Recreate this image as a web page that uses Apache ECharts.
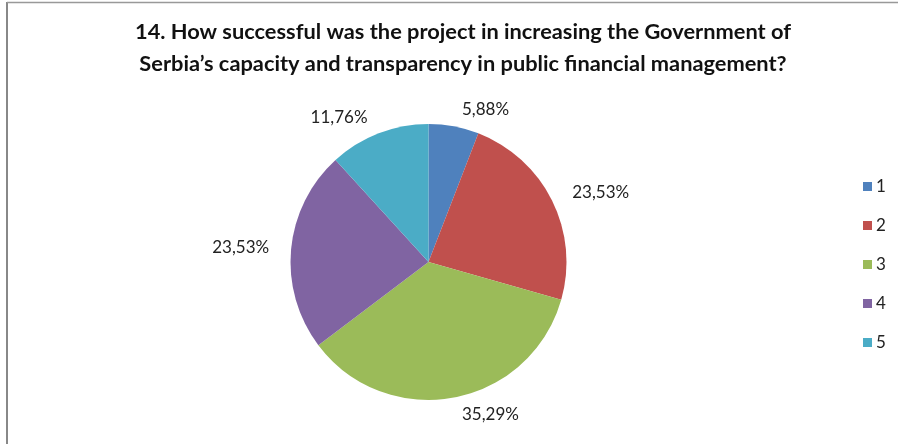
<!DOCTYPE html>
<html><head><meta charset="utf-8">
<script src="https://cdn.jsdelivr.net/npm/echarts@6/dist/echarts.min.js"></script>
<style>html,body{margin:0;padding:0;background:#fff}#c{width:898px;height:444px}</style>
</head><body><div id="c"></div>
<script>
const categories = ['1','2','3','4','5'];
const counts = [1, 4, 6, 4, 2];
const colors = ['#4F81BD','#C0504D','#9BBB59','#8064A2','#4BACC6'];
const titleText = '14. How successful was the project in increasing the Government of\nSerbia\u2019s capacity and transparency in public financial management?';
const total = counts.reduce((a, b) => a + b, 0);

const chart = echarts.init(document.getElementById('c'));
chart.setOption({
  animation: false,
  color: colors,
  title: {
    text: titleText, left: 458, textAlign: 'center', top: 11,
    textStyle: {fontFamily: 'Lato', fontWeight: 'bold', fontSize: 21.8, lineHeight: 32, color: '#111'}
  },
  legend: {
    orient: 'vertical', left: 858, top: 173, itemWidth: 9, itemHeight: 9, itemGap: 22,
    icon: 'rect',
    textStyle: {fontFamily: 'Lato', fontSize: 17, color: '#222', padding: [0,0,0,-1]},
    data: categories
  },
  graphic: [
    {type: 'line', shape: {x1: 7, y1: 2, x2: 7, y2: 444}, style: {stroke: '#888', lineWidth: 2}},
    {type: 'line', shape: {x1: 7, y1: 2.5, x2: 898, y2: 2.5}, style: {stroke: '#999', lineWidth: 1.5}}
  ],
  series: [{
    type: 'pie', center: [428.5, 262], radius: 138, startAngle: 90, clockwise: true,
    data: categories.map((c, i) => ({name: c, value: counts[i]})),
    label: {
      show: true, position: 'outside',
      fontFamily: 'Lato', fontSize: 17, color: '#222',
      formatter: p => (p.value / total * 100).toFixed(2).replace('.', ',') + '%'
    },
    labelLine: {show: false, length: 17, length2: 0},
    itemStyle: {borderWidth: 0}
  }]
});
</script></body></html>
